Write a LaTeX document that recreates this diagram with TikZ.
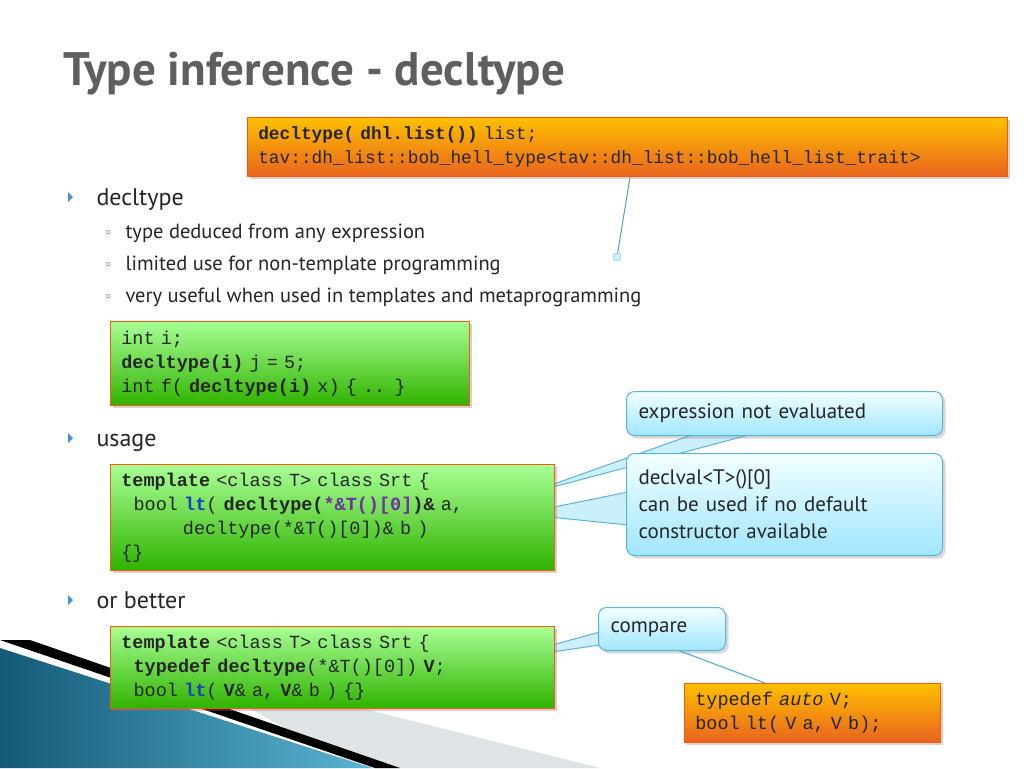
\documentclass[tikz,border=0pt]{standalone}
\usepackage{fontspec}
\setmainfont{PT Sans}
\setmonofont{Liberation Mono}
\newfontfamily\symfont{DejaVu Sans}
\usetikzlibrary{shadows}
\definecolor{titlegray}{HTML}{5F5F5F}
\definecolor{txt}{HTML}{262626}
\definecolor{calloutb}{HTML}{5AB4D6}
\definecolor{kwblue}{HTML}{1A3FC4}
\definecolor{kwpur}{HTML}{7030A0}
\tikzset{
  x=1pt,y=-1pt,
  codebox/.style={anchor=north west,inner xsep=11pt,inner ysep=6pt,align=left,font=\ttfamily\fontsize{18.5}{24}\selectfont,text=txt,drop shadow={opacity=0.35,shadow xshift=3pt,shadow yshift=-3pt}},
  greenbox/.style={codebox,draw=orange!70!red,line width=0.6pt,top color=green!35!white!90!lime,bottom color=green!60!black!75!lime},
  orangebox/.style={codebox,draw=orange!70!red,line width=0.6pt,top color={rgb,255:red,255;green,192;blue,0},bottom color={rgb,255:red,232;green,100;blue,30}},
  callout/.style={anchor=north west,rounded corners=8pt,draw=calloutb,line width=1pt,top color=cyan!5!white,bottom color=cyan!30!white!90!blue,font=\fontsize{21}{27}\selectfont,text=txt,align=left,inner xsep=12pt,drop shadow={opacity=0.3,shadow xshift=3pt,shadow yshift=-3pt}},
  tail/.style={draw=calloutb,line width=1pt,fill=cyan!20!white},
  bul/.style={anchor=base west,font=\fontsize{24}{28}\selectfont,text=txt},
  sub/.style={anchor=base west,font=\fontsize{20.5}{25}\selectfont,text=txt},
  tri/.style={fill=calloutb!80!blue},
}
\newcommand{\trib}[2]{\fill[tri] (#1,#2-5) -- (#1+5,#2) -- (#1,#2+5) -- cycle;}
\begin{document}
\begin{tikzpicture}
\useasboundingbox (0,0) rectangle (1024,768);
\fill[white] (0,0) rectangle (1024,768);
% decoration bottom-left
\fill[cyan!15!gray!25] (150,655) -- (600,768) -- (360,768) -- cycle;
\fill[black] (0,640) -- (30,640) -- (400,768) -- (375,768) -- cycle;
\shade[left color={rgb,255:red,20;green,90;blue,120},right color={rgb,255:red,90;green,180;blue,210}] (0,648) -- (372,768) -- (0,768) -- cycle;
% title
\node[anchor=base west,font=\bfseries\fontsize{47}{50}\selectfont,text=titlegray] (title) at (60,85) {Type inference - decltype};
% top orange
\node[orangebox,font=\ttfamily\fontsize{17.8}{24}\selectfont,text width=738pt,minimum height=59pt] (ob1) at (247,117) {\textbf{decltype( dhl.list())} list;\\tav::dh\_list::bob\_hell\_type<tav::dh\_list::bob\_hell\_list\_trait>};
\coordinate (sq) at (617,257);
\draw[calloutb!90!black,line width=1pt] (630,177) -- (sq);
\node[draw=calloutb,fill=cyan!20!white,minimum size=7pt,inner sep=0pt,rounded corners=1pt] (sqn) at (sq) {};
% bullets
\trib{68}{197}
\node[bul] (b1) at (93,205) {decltype};
\foreach \y/\t in {231/type deduced from any expression,263/limited use for non-template programming,295/very useful when used in templates and metaprogramming}{
  \node[sub,font=\symfont\fontsize{13}{16}\selectfont] at (101,\y+6) {◦};
  \node[sub] at (122,\y+7) {\t};
}
\node[greenbox,text width=337pt,minimum height=84pt] (g1) at (110,321) {int i;\\\textbf{decltype(i)} j = 5;\\int f( \textbf{decltype(i)} x) \{ .. \}};
\trib{68}{438}
\node[bul] (b2) at (93,446) {usage};
% callout tails
\draw[tail] (700,432) -- (523,495) -- (760,432);
\draw[tail] (628,492) -- (520,514) -- (628,525);
\node[callout,text width=292pt,minimum height=44pt] (c1) at (626,391) {expression not evaluated};
\node[callout,text width=292pt,minimum height=102pt] (c2) at (626,453) {declval<T>()[0]\\can be used if no default\\constructor available};
\node[greenbox,text width=422pt,minimum height=106pt] (g2) at (110,464) {\textbf{template} <class T> class Srt \{\\\ \ bool \textbf{\color{kwblue}lt}( \textbf{decltype(\color{kwpur}*\&T()[0]\color{txt})\&} a,\\\ \ \ \ \ \ \ \ \ \ decltype(*\&T()[0])\& b )\\\{\}};
\trib{68}{600}
\node[bul] (b3) at (93,608) {or better};
\draw[tail] (600,632) -- (497,660) -- (600,645);
\draw[calloutb,line width=1.2pt] (672,648) -- (765,683);
\node[callout,text width=103pt,minimum height=43pt] (c3) at (598,607) {compare};
\node[greenbox,text width=422pt,minimum height=82pt] (g3) at (110,626) {\textbf{template} <class T> class Srt \{\\\ \ \textbf{typedef decltype}(*\&T()[0]) \textbf{V};\\\ \ bool \textbf{\color{kwblue}lt}( \textbf{V}\& a, \textbf{V}\& b ) \{\}};
\node[orangebox,text width=234pt,minimum height=59pt] (ob2) at (684,683) {typedef \textit{auto} V;\\bool lt( V a, V b);};
\end{tikzpicture}
\end{document}
